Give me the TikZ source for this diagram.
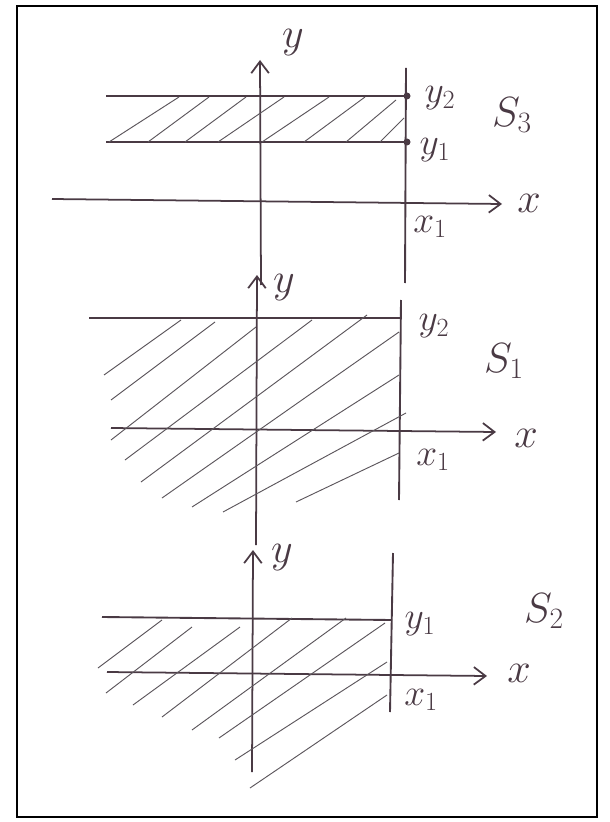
\RequirePackage{fix-cm}
\documentclass[tikz,border=0pt]{standalone}
\usepackage{amsmath,amssymb}
\usetikzlibrary{arrows.meta}
\definecolor{pen}{RGB}{74,58,68}
\definecolor{hatchpen}{RGB}{92,86,92}
\tikzset{
  axis/.style={draw=pen,line width=1.5pt},
  bound/.style={draw=pen,line width=1.6pt},
  hatchline/.style={draw=hatchpen,line width=0.8pt},
  lbl/.style={text=pen,inner sep=0pt,font=\fontsize{32}{36}\selectfont},
  biglbl/.style={text=pen,inner sep=0pt,font=\fontsize{36}{40}\selectfont}
}

\begin{document}
\begin{tikzpicture}[x=0.03cm,y=-0.03cm,>={Straight Barb[length=10pt,width=15pt]}]
  \useasboundingbox (0,0) rectangle (609,822);
  \draw[line width=1.6pt] (17,6) rectangle (597,817);

  % S_3
  \draw[axis,->] (261,285) -- (260,60);
  \draw[axis,->] (52,199) -- (502,204);
  \draw[bound] (406,68) -- (405,283);
  \draw[bound] (106,96) -- (407,96);
  \draw[bound] (106,142) -- (407,142);
  \foreach \a/\b/\c/\d in {109/142/179/97,148/142/209/97,185/142/246/97,218/142/284/97,
      262/142/329/97,304/142/365/97,346/142/396/100,380/142/404/118}
    \draw[hatchline] (\a,\b) -- (\c,\d);
  \fill[pen] (407,96) circle (3.5) (407,142) circle (3.5);
  \node[biglbl] (y3) at (293,43) {$y$};
  \node[lbl] (y3b) at (440,98) {$y_2$};
  \node[lbl] (y3a) at (435,150) {$y_1$};
  \node[biglbl] (s3) at (512,115) {$S_3$};
  \node[biglbl] (x3) at (529,203) {$x$};
  \node[lbl] (x3a) at (430,227) {$x_1$};

  % S_1
  \draw[axis,->] (256,545) -- (257,275);
  \draw[axis,->] (111,428) -- (496,432);
  \draw[bound] (401,300) -- (399,500);
  \draw[bound] (89,318) -- (402,318);
  \foreach \a/\b/\c/\d in {104/375/181/320,111/400/215/322,111/440/256/327,125/460/312/320,
      141/482/367/315,162/498/399/332,192/507/399/375,223/512/406/413,296/502/399/453}
    \draw[hatchline] (\a,\b) -- (\c,\d);
  \node[biglbl] (y1ax) at (284,288) {$y$};
  \node[lbl] (y1b) at (434,326) {$y_2$};
  \node[biglbl] (s1) at (504,361) {$S_1$};
  \node[biglbl] (x1ax) at (526,438) {$x$};
  \node[lbl] (x1a) at (433,460) {$x_1$};

  % S_2
  \draw[axis,->] (252,772) -- (253,550);
  \draw[axis,->] (107,672) -- (487,676);
  \draw[bound] (393,553) -- (390,712);
  \draw[bound] (102,617) -- (392,620);
  \foreach \a/\b/\c/\d in {98/668/162/620,106/693/192/627,133/705/240/627,162/717/292/618,
      192/730/346/618,219/738/385/623,235/760/387/662,250/788/387/695}
    \draw[hatchline] (\a,\b) -- (\c,\d);
  \node[biglbl] (y2ax) at (282,558) {$y$};
  \node[lbl] (y2a) at (420,624) {$y_1$};
  \node[biglbl] (s2) at (544,611) {$S_2$};
  \node[biglbl] (x2ax) at (519,673) {$x$};
  \node[lbl] (x2a) at (421,700) {$x_1$};
\end{tikzpicture}
\end{document}
